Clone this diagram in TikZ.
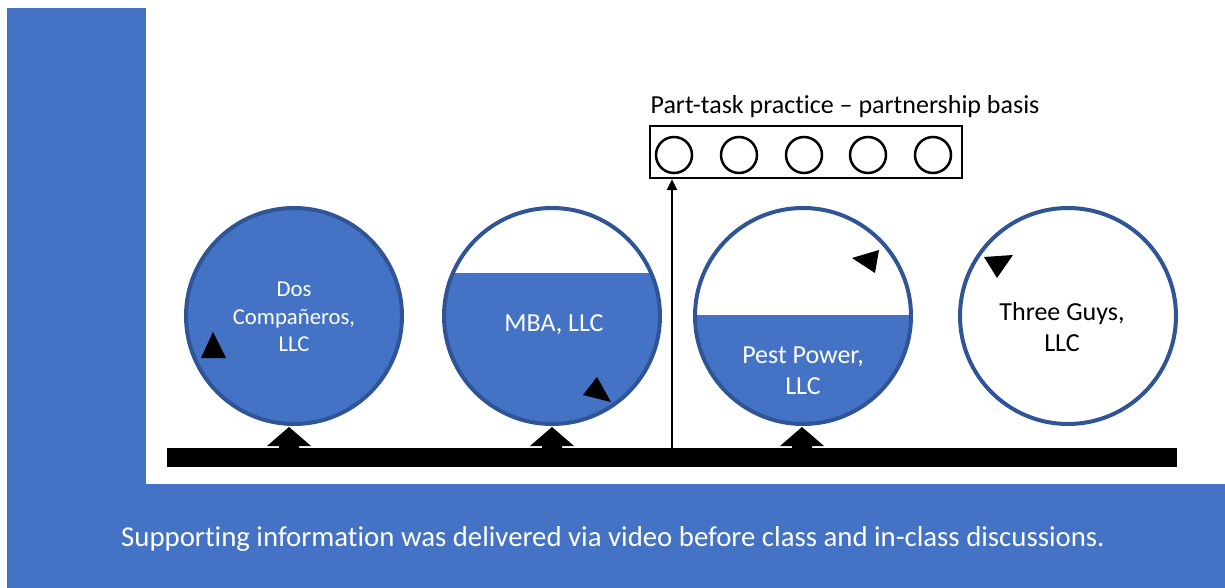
\documentclass[tikz,border=0pt]{standalone}
\usepackage{fontspec}
\setmainfont{Carlito}[Ligatures=NoCommon]
\usetikzlibrary{arrows.meta,calc}
\definecolor{accblue}{HTML}{4472C4}
\definecolor{ringblue}{HTML}{2F5597}
\begin{document}
\begin{tikzpicture}[x=1pt,y=-1pt,
  company/.style={circle,minimum size=216pt,inner sep=0pt},
  ring/.style={draw=ringblue,line width=4pt},
  intext/.style={align=center,font=\fontsize{26}{31}\selectfont},
  smalltext/.style={align=center,font=\fontsize{22.7}{27.5}\selectfont},
  slot/.style={circle,draw=black,line width=2.5pt,minimum size=36pt,inner sep=0pt},
  marker/.style={fill=black}]
\useasboundingbox (0,0) rectangle (1225,588);
% background L shape
\fill[accblue] (7,8) rectangle (146,588);
\fill[accblue] (7,484) rectangle (1225,588);
% bar
\node[fill=black,minimum width=1010pt,minimum height=19pt,inner sep=0pt,anchor=north west] (bar) at (167,448) {};
% circles
\node[company,fill=accblue] (c1) at (294,316) {};
\node[company,fill=white] (c2) at (552,316) {};
\node[company,fill=white] (c3) at (803,316) {};
\node[company,fill=white] (c4) at (1068,316) {};
\begin{scope}
  \clip (c2.center) circle[radius=108pt];
  \fill[accblue] (430,273) rectangle (680,440);
\end{scope}
\begin{scope}
  \clip (c3.center) circle[radius=108pt];
  \fill[accblue] (680,315) rectangle (930,440);
\end{scope}
\foreach \c in {c1,c2,c3,c4} \draw[ring] (\c.center) circle[radius=108pt];
% texts
\node[smalltext,text=white] (t1) at (294,317) {Dos\\Compañeros,\\LLC};
\node[intext,text=white] (t2) at (554,325) {MBA, LLC};
\node[intext,text=white] (t3) at (803,371) {Pest Power,\\LLC};
\node[intext,text=black] (t4) at (1062,327) {Three Guys,\\LLC};
% pedestals
\foreach \px in {289,552,802}
  \fill[black] (\px,427) -- ++(22,19) -- ++(-12,0) -- ++(0,3) -- ++(-20,0) -- ++(0,-3) -- ++(-12,0) -- cycle;
% markers
\fill[marker] (213,332) -- (226,358) -- (201,358) -- cycle;
\fill[marker] (583,395) -- (597,377) -- (611,402) -- cycle;
\fill[marker] (852,258) -- (879,250) -- (875,273) -- cycle;
\fill[marker] (984,257) -- (1013,255) -- (997,278) -- cycle;
% part-task box
\node[draw=black,line width=2.5pt,minimum width=312pt,minimum height=52pt,inner sep=0pt] (box) at (806,152) {};
\node[slot] (s1) at (674,155) {};
\node[slot] (s2) at (739,155) {};
\node[slot] (s3) at (804,155) {};
\node[slot] (s4) at (868,155) {};
\node[slot] (s5) at (933,155) {};
\node[font=\fontsize{26}{31}\selectfont] (title) at (845,107) {Part-task practice – partnership basis};
% vertical arrow
\coordinate (vbase) at (672,448);
\draw[line width=2.5pt,-{Triangle[length=11pt,width=10pt]}] (vbase) -- (vbase |- box.south);
% bottom text
\node[text=white,font=\fontsize{28.8}{34}\selectfont] (foot) at (613,539) {Supporting information was delivered via video before class and in-class discussions.};
\end{tikzpicture}
\end{document}
